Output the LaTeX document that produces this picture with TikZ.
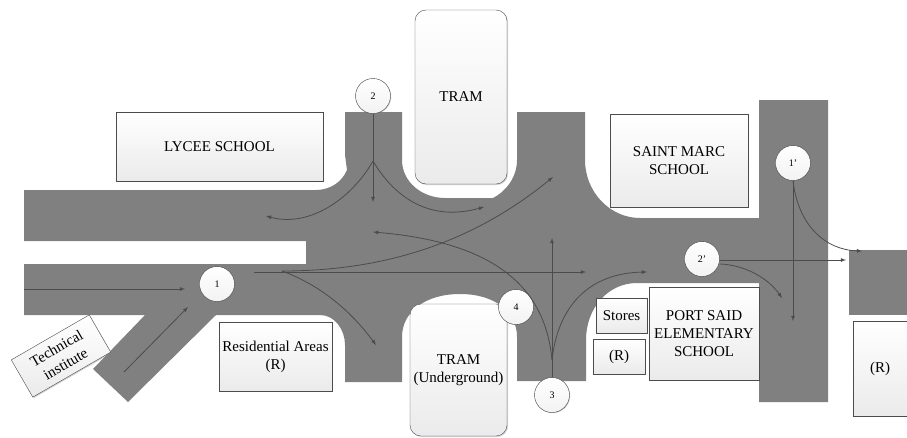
\documentclass[tikz,border=0pt]{standalone}
\usepackage{fontspec}
\setmainfont{Liberation Serif}
\usetikzlibrary{arrows,shadows}
\tikzset{
placebox/.style={draw=black!70,top color=white,bottom color=black!8,inner sep=0pt,align=center,font=\fontsize{15}{18}\selectfont,drop shadow={shadow xshift=1pt,shadow yshift=-1pt,opacity=.35}},
trambox/.style={placebox,rounded corners=11pt},
stopmark/.style={circle,draw=black!75,top color=white,bottom color=black!5,minimum size=35pt,inner sep=0pt,font=\fontsize{10}{10}\selectfont,drop shadow={shadow xshift=.7pt,shadow yshift=-.7pt,opacity=.35}},
flow/.style={draw=black!70,line width=.8pt,-latex}
}
\begin{document}
\begin{tikzpicture}[x=1pt,y=-1pt]
\useasboundingbox (0,0) rectangle (907,437);
% roads
\fill[black!50] (24,190) -- (316,190) .. controls (330,190) and (342,182) .. (347,170) -- (345,155) -- (345,112) -- (402,112) -- (402,160)
 .. controls (402,182) and (422,198) .. (445,198) -- (493,198) .. controls (505,192) and (517,178) .. (517,160) -- (517,112) -- (585,112) -- (585,160)
 .. controls (585,192) and (610,218) .. (640,218) -- (759,218) -- (759,100) -- (828,100) -- (828,402) -- (759,402) -- (759,283) -- (637,283)
 .. controls (608,283) and (586,308) .. (586,340) -- (586,381) -- (517,381) -- (517,337) .. controls (517,312) and (495,294) .. (460,294)
 .. controls (425,294) and (402,312) .. (402,337) -- (402,382) -- (345,382) -- (345,345) .. controls (345,330) and (335,315) .. (320,315)
 -- (216,315) -- (128,402) -- (93,369) -- (145,315) -- (24,315) -- (24,264) -- (306,264) -- (306,241) -- (24,241) -- cycle;
\fill[black!50] (849,250) rectangle (907,315);
% buildings
\node[placebox,minimum width=207pt,minimum height=69pt] (lycee) at (219.5,146.5) {LYCEE SCHOOL};
\node[trambox,minimum width=92pt,minimum height=174pt] (tram) at (461,97) {TRAM};
\node[placebox,minimum width=138pt,minimum height=93pt] (marc) at (679,160.5) {SAINT MARC\\SCHOOL};
\node[placebox,minimum width=110pt,minimum height=93pt] (portsaid) at (704,333.5) {PORT SAID\\ELEMENTARY\\SCHOOL};
\node[placebox,minimum width=51pt,minimum height=35pt] (stores) at (621.5,315.5) {Stores};
\node[placebox,minimum width=52pt,minimum height=35pt] (resa) at (619,356.5) {(R)};
\node[placebox,minimum width=54pt,minimum height=95pt] (resb) at (880,368.5) {(R)};
\node[placebox,minimum width=113pt,minimum height=69pt] (resid) at (275.5,356.5) {Residential Areas\\(R)};
\node[trambox,minimum width=97pt,minimum height=132pt] (tramu) at (458.5,370) {TRAM\\(Underground)};
\node[placebox,rotate=30,minimum width=90pt,minimum height=43pt] (tech) at (61,356) {Technical\\institute};
% numbered points
\node[stopmark] (n1) at (217,284) {1};
\node[stopmark] (n2) at (373,96) {2};
\node[stopmark] (n3) at (552,395) {3};
\node[stopmark] (n4) at (516,307) {4};
\node[stopmark] (n1p) at (793,163) {1'};
\node[stopmark] (n2p) at (702,259) {2'};
% traffic
\coordinate (split2) at (373,161);
\coordinate (split3) at (552,360);
\coordinate (start1) at (254,272);
\coordinate (split1) at (282,271);
\draw[flow] (24,289) -- (185,289);
\draw[flow] (124,372) -- (188,307);
\draw[flow] (n2.south) -- (373,202);
\draw[flow] (split2) .. controls (352,198) and (310,228) .. (266,216);
\draw[flow] (split2) .. controls (395,198) and (430,222) .. (484,207);
\draw[flow] (start1) -- (586,272);
\draw[flow] (split1) .. controls (380,271) and (470,245) .. (553,177);
\draw[flow] (split1) .. controls (320,285) and (350,310) .. (376,345);
\draw[flow] (n3.north) -- (552,238);
\draw[flow] (split3) .. controls (546,295) and (505,243) .. (373,232);
\draw[flow] (split3) .. controls (558,305) and (590,273) .. (647,272);
\draw[flow] (n2p.east) ++(0,1) -- (846,260);
\draw[flow] (720,264) .. controls (745,265) and (768,278) .. (782,298);
\draw[flow] (n1p.south) -- (793,321);
\draw[flow] (n1p.south) .. controls (798,225) and (825,250) .. (862,251);
\end{tikzpicture}
\end{document}
